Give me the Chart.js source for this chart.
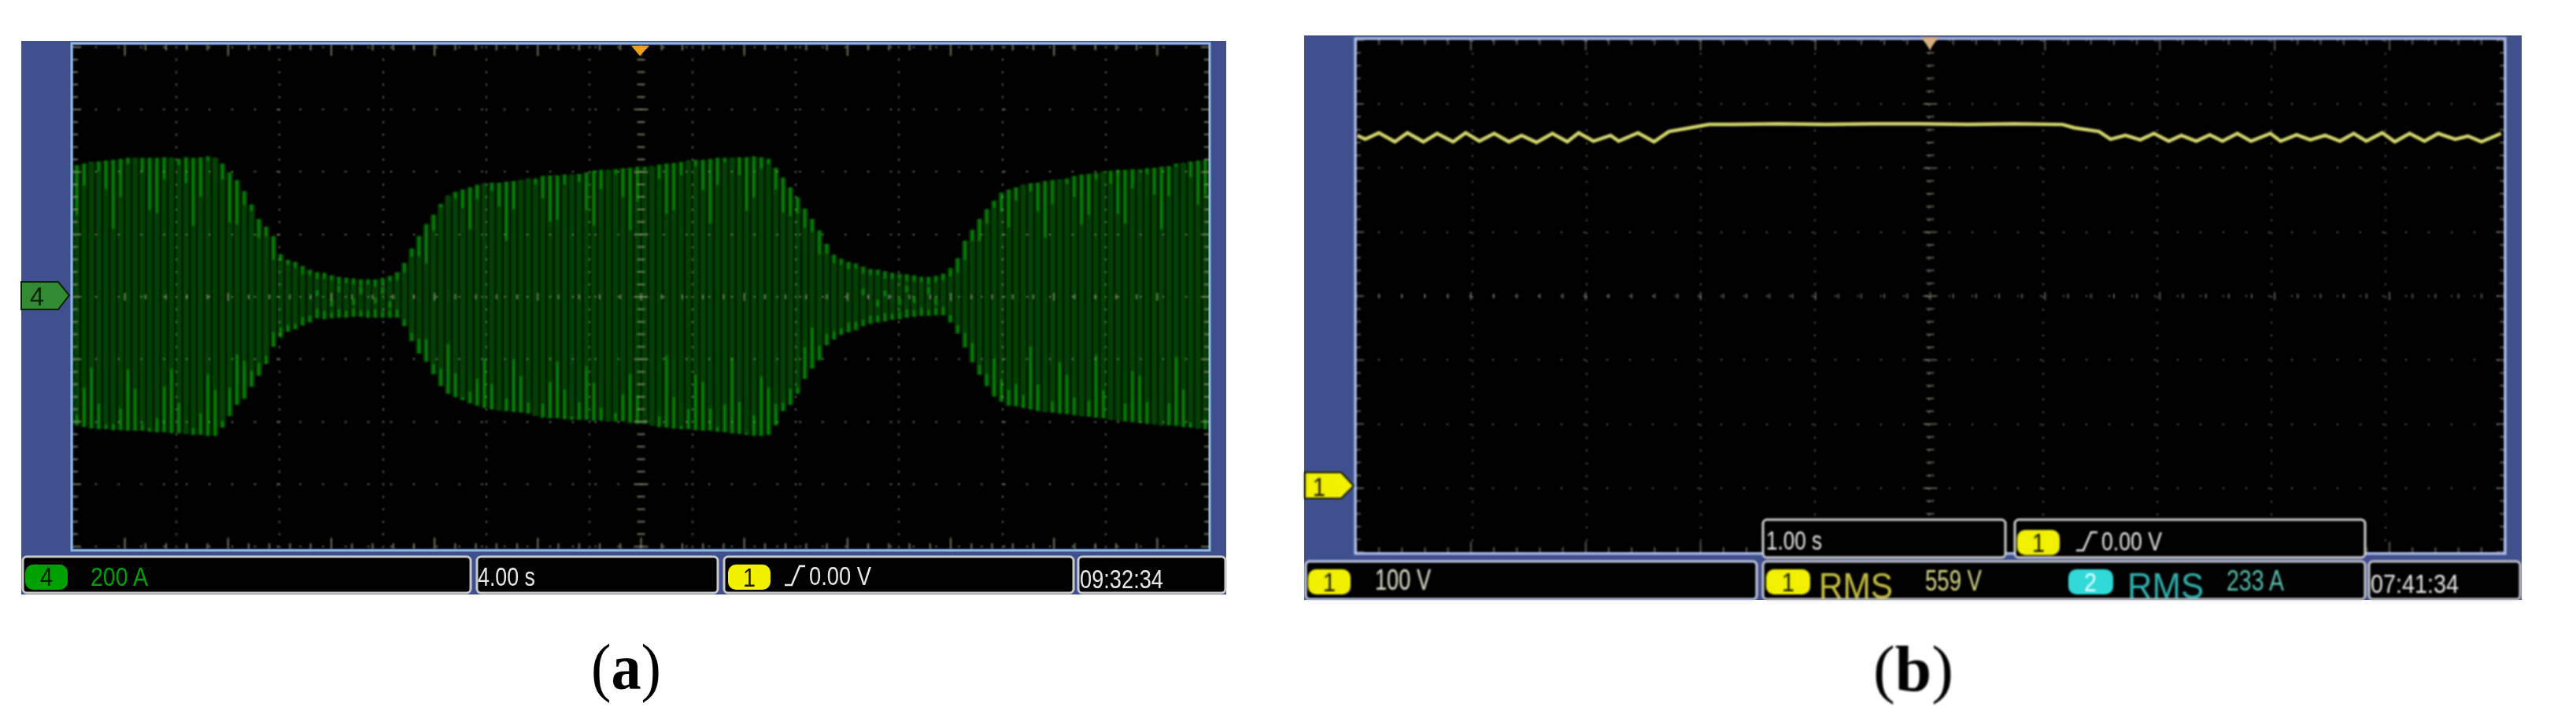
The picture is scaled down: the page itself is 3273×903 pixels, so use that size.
<!DOCTYPE html>
<html lang="en">
<head>
<meta charset="UTF-8">
<title>Oscilloscope captures</title>
<script src="https://cdn.jsdelivr.net/npm/chart.js"></script>
<style>
  * { margin: 0; padding: 0; box-sizing: border-box; }
  html, body { width: 3273px; height: 903px; background: #fff; overflow: hidden; }
  svg { position: absolute; left: 0; top: 0; }
  canvas { position: absolute; background: #000; }
  #plotA { left: 93px; top: 57px; filter: blur(0.8px); }
  #plotB { left: 1723px; top: 50px; filter: blur(1px); }
  text { font-family: "Liberation Sans", sans-serif; }
  .cap { font-family: "Liberation Serif", serif; font-size: 82px; fill: #000; }
  .soft { filter: blur(0.6px); }
  .softer { filter: blur(1px); }
</style>
</head>
<body>

<svg id="under" width="3273" height="903">
  <rect x="27" y="52" width="1531" height="703" fill="#40508e"/>
  <rect x="1657" y="45" width="1547" height="717" fill="#40508e"/>
</svg>

<canvas id="plotA" width="1443" height="640"></canvas>
<canvas id="plotB" width="1459" height="652"></canvas>

<svg id="over" width="3273" height="903">
  <g class="soft">
    <rect x="91" y="55" width="1446" height="644" fill="none" stroke="#8cb8e0" stroke-width="3"/>
    <polygon points="802,58 825,58 813,71" fill="#f0a020"/>
    <polygon points="27,358 74,358 88,375 74,393 27,393" fill="#328a32" stroke="#0c200c" stroke-width="2"/>
    <text x="38" y="388" font-size="34" textLength="18" lengthAdjust="spacingAndGlyphs" fill="#0c200c">4</text>

    <rect x="29" y="707" width="569" height="46" rx="5" fill="#000" stroke="#c8c8c8" stroke-width="3"/>
    <rect x="606" y="707" width="306" height="46" rx="5" fill="#000" stroke="#c8c8c8" stroke-width="3"/>
    <rect x="920" y="707" width="444" height="46" rx="5" fill="#000" stroke="#c8c8c8" stroke-width="3"/>
    <rect x="1370" y="707" width="187" height="46" rx="5" fill="#000" stroke="#c8c8c8" stroke-width="3"/>

    <rect x="32" y="717" width="54" height="32" rx="10" fill="#00a000"/>
    <text x="51" y="744" font-size="34" textLength="16" lengthAdjust="spacingAndGlyphs" fill="#001800">4</text>
    <text x="115" y="744" font-size="34" textLength="73" lengthAdjust="spacingAndGlyphs" fill="#00a000">200 A</text>
    <text x="607" y="744" font-size="34" textLength="73" lengthAdjust="spacingAndGlyphs" fill="#e8e8e8">4.00 s</text>
    <rect x="925" y="717" width="54" height="32" rx="10" fill="#f0f000"/>
    <text x="944" y="745" font-size="34" textLength="16" lengthAdjust="spacingAndGlyphs" fill="#181800">1</text>
    <polyline points="997,743 1006,743 1016,719 1023,719" fill="none" stroke="#e8e8e8" stroke-width="2.5"/>
    <text x="1028" y="743" font-size="34" textLength="79" lengthAdjust="spacingAndGlyphs" fill="#e8e8e8">0.00 V</text>
    <text x="1372" y="747" font-size="34" textLength="106" lengthAdjust="spacingAndGlyphs" fill="#e8e8e8">09:32:34</text>

    <text class="cap" x="751" y="875" textLength="89" lengthAdjust="spacingAndGlyphs">(<tspan font-weight="bold">a</tspan>)</text>
  </g>

  <g class="softer">
    <rect x="1722" y="49" width="1461" height="654" fill="none" stroke="#b8c8f0" stroke-width="3"/>
    <polygon points="2441,47 2463,47 2452,63" fill="#d8b080"/>
    <polygon points="1658,600 1704,600 1720,617 1704,633 1658,633" fill="#f0f000" stroke="#181800" stroke-width="2"/>
    <text x="1668" y="630" font-size="34" textLength="16" lengthAdjust="spacingAndGlyphs" fill="#181800">1</text>

    <rect x="1659" y="713" width="573" height="48" rx="5" fill="#000" stroke="#c8d0e8" stroke-width="3"/>
    <rect x="2240" y="713" width="765" height="48" rx="5" fill="#000" stroke="#c8c8c8" stroke-width="3"/>
    <rect x="3010" y="713" width="192" height="48" rx="5" fill="#000" stroke="#c8c8c8" stroke-width="3"/>
    <rect x="2240" y="660" width="308" height="48" rx="5" fill="#000" stroke="#d0d0d0" stroke-width="3"/>
    <rect x="2560" y="660" width="445" height="48" rx="5" fill="#000" stroke="#d0d0d0" stroke-width="3"/>

    <rect x="1662" y="723" width="54" height="32" rx="10" fill="#f0f000"/>
    <text x="1681" y="751" font-size="34" textLength="16" lengthAdjust="spacingAndGlyphs" fill="#181800">1</text>
    <text x="1747" y="749" font-size="36" textLength="71" lengthAdjust="spacingAndGlyphs" fill="#e0e0d0">100 V</text>
    <rect x="2244" y="723" width="56" height="32" rx="10" fill="#f0f000"/>
    <text x="2264" y="751" font-size="34" textLength="16" lengthAdjust="spacingAndGlyphs" fill="#181800">1</text>
    <text x="2311" y="760" font-size="46" textLength="94" lengthAdjust="spacingAndGlyphs" fill="#c8c040">RMS</text>
    <text x="2446" y="750" font-size="36" textLength="72" lengthAdjust="spacingAndGlyphs" fill="#d8d888">559 V</text>
    <rect x="2628" y="723" width="57" height="32" rx="10" fill="#30d8d8"/>
    <text x="2648" y="751" font-size="34" textLength="16" lengthAdjust="spacingAndGlyphs" fill="#e8ffff">2</text>
    <text x="2703" y="760" font-size="46" textLength="97" lengthAdjust="spacingAndGlyphs" fill="#30b0b0">RMS</text>
    <text x="2829" y="750" font-size="36" textLength="73" lengthAdjust="spacingAndGlyphs" fill="#58c0b0">233 A</text>
    <text x="3012" y="753" font-size="34" textLength="112" lengthAdjust="spacingAndGlyphs" fill="#e8e8e8">07:41:34</text>
    <text x="2244" y="698" font-size="34" textLength="71" lengthAdjust="spacingAndGlyphs" fill="#e8e8e8">1.00 s</text>
    <rect x="2563" y="673" width="54" height="32" rx="10" fill="#f0f000"/>
    <text x="2582" y="701" font-size="34" textLength="16" lengthAdjust="spacingAndGlyphs" fill="#181800">1</text>
    <polyline points="2638,699 2647,699 2657,676 2665,676" fill="none" stroke="#e8e8e8" stroke-width="2.5"/>
    <text x="2670" y="699" font-size="34" textLength="77" lengthAdjust="spacingAndGlyphs" fill="#e8e8e8">0.00 V</text>

    <text class="cap" x="2380" y="877" textLength="102" lengthAdjust="spacingAndGlyphs">(<tspan font-weight="bold">b</tspan>)</text>
  </g>
</svg>

<script>
// panel (a) - channel 4 current, one entry per visible fringe (A)
const upperEnvelope = [
  421,426,431,433,436,438,441,444,444,444,
  444,444,446,444,441,446,444,446,449,444,
  426,398,373,338,295,249,224,194,136,118,
  111,98,86,78,76,68,63,60,58,55,
  55,55,60,66,78,108,154,194,232,262,
  297,323,335,343,350,358,363,365,365,368,
  370,373,378,378,386,388,388,391,391,393,
  398,403,406,406,408,411,413,416,416,418,
  423,426,428,431,436,438,438,441,444,444,
  444,446,446,449,446,441,413,381,350,318,
  282,249,212,169,134,121,111,106,96,88,
  86,81,76,73,71,68,63,63,66,73,
  91,123,179,214,249,280,307,333,343,350,
  358,363,365,370,373,375,378,386,391,393,
  396,401,403,406,406,408,408,411,413,416,
  418,426,428,433,436,438
];
const lowerEnvelope = [
  -411,-416,-421,-423,-423,-426,-426,-428,-428,-428,
  -431,-433,-433,-436,-436,-438,-441,-441,-444,-444,
  -418,-381,-345,-325,-287,-252,-214,-159,-129,-111,
  -103,-91,-81,-68,-71,-68,-66,-66,-63,-63,
  -66,-66,-66,-66,-66,-93,-141,-181,-207,-247,
  -285,-310,-320,-330,-340,-348,-355,-360,-363,-365,
  -368,-370,-373,-380,-386,-388,-388,-391,-393,-393,
  -393,-396,-396,-398,-398,-398,-403,-406,-406,-411,
  -416,-418,-421,-423,-423,-426,-428,-428,-431,-433,
  -436,-438,-441,-444,-444,-441,-411,-365,-345,-310,
  -262,-229,-202,-154,-136,-121,-113,-106,-93,-86,
  -81,-78,-73,-71,-66,-63,-60,-60,-58,-58,
  -81,-116,-161,-209,-249,-285,-318,-335,-348,-350,
  -355,-360,-365,-368,-370,-373,-375,-378,-381,-383,
  -386,-388,-393,-396,-398,-401,-403,-406,-408,-411,
  -411,-413,-416,-418,-421,-423
];
// length of the bright part at each end of a fringe (A)
const topStreak = [
  160,70,0,30,90,220,120,18,0,43,
  165,175,70,0,18,80,215,125,13,0,
  50,160,140,43,20,60,30,75,20,15,
  18,25,15,20,18,15,22,15,18,20,
  15,22,18,15,25,30,25,63,125,50,
  10,0,20,58,133,45,0,25,75,188,
  88,0,0,18,70,146,141,30,0,25,
  120,175,60,0,15,90,200,110,10,0,
  45,160,150,40,0,20,95,205,85,12,
  0,55,170,130,35,15,70,110,90,50,
  60,40,75,30,25,18,22,15,20,18,
  15,22,18,15,20,18,15,22,18,20,
  25,45,60,35,70,45,20,60,120,40,
  0,25,90,180,75,0,15,65,160,130,
  20,0,40,140,170,60,0,18,85,200,
  95,8,0,50,140,110
];
const bottomStreak = [
  33,125,193,80,13,18,68,195,133,20,
  10,43,145,205,95,0,20,68,195,145,
  20,90,160,120,50,40,25,45,30,20,
  15,25,20,30,25,18,25,20,25,18,
  20,25,18,22,25,20,25,45,70,30,
  55,158,75,8,35,85,155,80,0,38,
  168,115,33,0,43,115,180,93,10,55,
  170,120,40,0,25,85,155,90,10,0,
  33,230,100,8,63,175,155,70,13,88,
  240,100,5,65,188,150,67,25,50,20,
  100,130,45,35,25,20,30,25,18,25,
  20,25,18,22,25,20,25,18,22,25,
  22,25,45,60,30,38,120,70,50,70,
  40,200,83,0,35,163,125,55,0,50,
  200,88,0,0,55,163,150,68,0,0,
  70,220,118,15,0,30
];
// bright spots where the trace crosses zero in the narrow parts
const crossingFringe = [33,35,36,38,39,41,42,43,108,110,111,113,114,115,117,118];
const crossingAmps = [10,-20,25,-15,20,-10,20,-25,15,-20,10,-15,25,-10,20,-15];

// panel (b) - channel 1 RMS voltage
const rmsTimes = [
  -5.01,-4.94,-4.82,-4.68,-4.57,-4.43,-4.31,-4.17,-4.06,-3.94,
  -3.81,-3.68,-3.57,-3.44,-3.30,-3.17,-3.07,-2.94,-2.79,-2.72,
  -2.55,-2.41,-2.28,-2.12,-1.93,-1.73,-1.32,-0.90,-0.49,-0.08,
  0.34,0.75,1.17,1.27,1.49,1.59,1.72,1.85,1.97,2.10,
  2.21,2.34,2.46,2.57,2.70,2.82,2.99,3.08,3.22,3.34,
  3.47,3.60,3.72,3.83,3.97,4.08,4.21,4.34,4.46,4.61,
  4.72,4.84,5.01
];
const rmsVolts = [
  551,545,555,541,555,541,554,541,555,542,
  554,541,551,540,554,541,555,542,551,542,
  555,541,557,562,568,568,569,568,569,569,
  568,569,568,563,557,545,551,544,554,542,
  551,542,552,542,554,542,554,542,552,544,
  551,542,554,542,555,541,554,542,554,545,
  550,541,554
];

const gridColor = 'rgba(170,170,140,0.8)';

// scope graticule ticks: edges, centre cross
const graticule = {
  id: 'graticule',
  afterDatasetsDraw(chart, args, opts) {
    const { ctx, chartArea: a } = chart;
    const sx = chart.scales[opts.xScale], sy = chart.scales.y;
    ctx.save();
    ctx.strokeStyle = opts.color;
    ctx.lineWidth = 2;
    const cx = sx.getPixelForValue((sx.min + sx.max) / 2);
    const cy = sy.getPixelForValue((sy.min + sy.max) / 2);
    ctx.beginPath();
    for (let i = 0; i <= 50; i++) {
      const x = sx.getPixelForValue(sx.min + (sx.max - sx.min) * i / 50);
      const len = i % 5 === 0 ? 14 : 7;
      ctx.moveTo(x, a.top); ctx.lineTo(x, a.top + len);
      ctx.moveTo(x, a.bottom); ctx.lineTo(x, a.bottom - len);
      const m = i % 5 === 0 ? 5 : 3;
      ctx.moveTo(x, cy - m); ctx.lineTo(x, cy + m);
    }
    for (let i = 0; i <= 40; i++) {
      const y = sy.getPixelForValue(opts.yBase + opts.yStep * i);
      const len = i % 5 === 0 ? 10 : 6;
      ctx.moveTo(a.left, y); ctx.lineTo(a.left + len, y);
      ctx.moveTo(a.right, y); ctx.lineTo(a.right - len, y);
      const m = i % 5 === 0 ? 9 : 5;
      ctx.moveTo(cx - m, y); ctx.lineTo(cx + m, y);
    }
    ctx.stroke();
    ctx.restore();
  }
};

const columnLabels = upperEnvelope.map((_, i) => i);

new Chart(document.getElementById('plotA'), {
  type: 'bar',
  data: {
    labels: columnLabels,
    datasets: [
      { data: upperEnvelope.map((v, i) => [lowerEnvelope[i], v]), backgroundColor: '#034003', barThickness: 7, order: 3 },
      { data: upperEnvelope.map((v, i) => [v - topStreak[i], v]), backgroundColor: '#078a07', barThickness: 2, order: 2 },
      { data: lowerEnvelope.map((v, i) => [v, v + bottomStreak[i]]), backgroundColor: '#078a07', barThickness: 2, order: 2 },
      { data: crossingFringe.map((k, i) => ({ x: k, y: [crossingAmps[i] - 10, crossingAmps[i] + 10] })), backgroundColor: '#078007', barThickness: 3, order: 1 }
    ]
  },
  options: {
    responsive: false,
    animation: false,
    devicePixelRatio: 1,
    layout: { padding: 0 },
    datasets: { bar: { grouped: false, borderSkipped: false, borderWidth: 0 } },
    plugins: {
      legend: { display: false },
      tooltip: { enabled: false },
      graticule: { xScale: 'xDiv', yBase: -800, yStep: 40, color: 'rgba(150,150,120,0.8)' }
    },
    scales: {
      x: { display: false, offset: true },
      xDiv: {
        type: 'linear', position: 'bottom', min: -20, max: 20,
        ticks: { display: false, stepSize: 4 },
        border: { display: false, dash: [2, 13.86], dashOffset: -2 },
        grid: { z: 1, color: gridColor, lineWidth: 2, drawTicks: false }
      },
      y: {
        min: -807, max: 807,
        afterBuildTicks(s) { s.ticks = [-800,-600,-400,-200,0,200,400,600,800].map(value => ({ value })); },
        ticks: { display: false },
        border: { display: false, dash: [2, 26.86], dashOffset: 1 },
        grid: { z: 1, color: gridColor, lineWidth: 2, drawTicks: false }
      }
    }
  },
  plugins: [graticule]
});

new Chart(document.getElementById('plotB'), {
  type: 'line',
  data: {
    labels: rmsTimes,
    datasets: [{
      data: rmsTimes.map((t, i) => ({ x: t, y: rmsVolts[i] })),
      borderColor: '#d4d46c',
      borderWidth: 4.5,
      pointRadius: 0,
      tension: 0
    }]
  },
  options: {
    responsive: false,
    animation: false,
    devicePixelRatio: 1,
    layout: { padding: 0 },
    plugins: {
      legend: { display: false },
      tooltip: { enabled: false },
      graticule: { xScale: 'x', yBase: -100, yStep: 20, color: 'rgba(150,150,130,0.6)' }
    },
    scales: {
      x: {
        type: 'linear', min: -5.02, max: 5.04,
        ticks: { display: false, stepSize: 1 },
        border: { display: false, dash: [2, 14.26], dashOffset: -1 },
        grid: { z: 1, color: 'rgba(170,170,150,0.6)', lineWidth: 2, drawTicks: false }
      },
      y: {
        min: -101, max: 701,
        afterBuildTicks(s) { s.ticks = [0,100,200,300,400,500,600,700].map(value => ({ value })); },
        ticks: { display: false },
        border: { display: false, dash: [2, 27], dashOffset: 1 },
        grid: { z: 1, color: 'rgba(170,170,150,0.6)', lineWidth: 2, drawTicks: false }
      }
    }
  },
  plugins: [graticule]
});
</script>
</body>
</html>
